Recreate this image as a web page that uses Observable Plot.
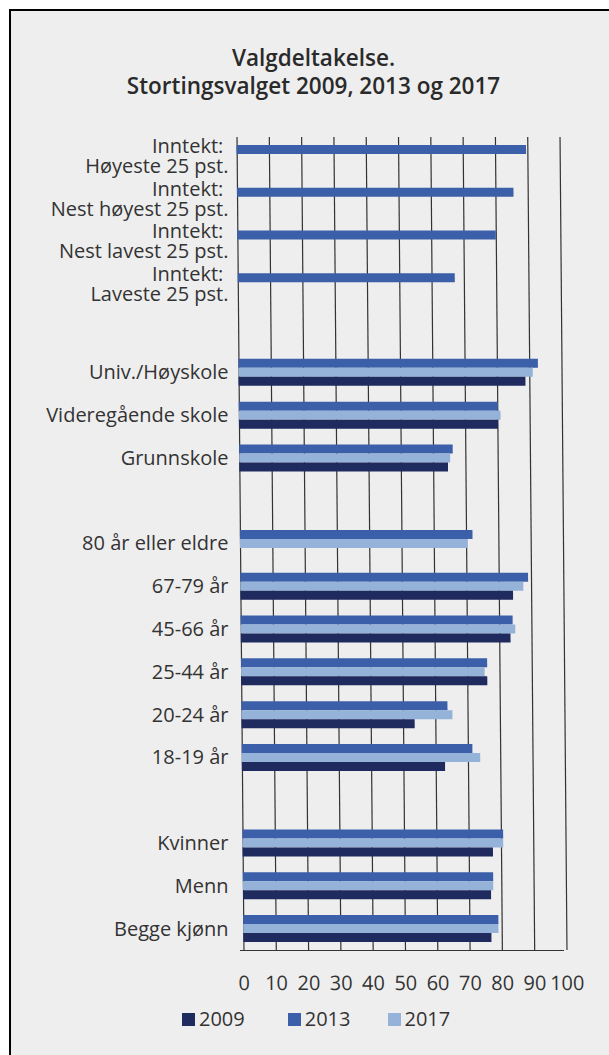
<!DOCTYPE html>
<html>
<head>
<meta charset="utf-8">
<script src="https://cdn.jsdelivr.net/npm/d3@7"></script>
<script src="https://cdn.jsdelivr.net/npm/@observablehq/plot@0.6"></script>
<style>
  html, body { margin: 0; padding: 0; background: #fff; }
  body { width: 609px; height: 1055px; overflow: hidden; position: relative; font-family: "Open Sans", sans-serif; color: #333; }
  #frame { position: absolute; left: 9px; top: 9px; width: 640px; height: 1100px; border: 2.5px solid #000; background: #eeeeee; }
  #title { position: absolute; left: 0; top: 44px; width: 627px; text-align: center; font-weight: 600; font-size: 22.5px; line-height: 28px; color: #2a2a2a; }
  #chart { position: absolute; left: 0; top: 110px; }
  #legend { position: absolute; left: 182px; top: 1008px; display: flex; font-size: 20px; line-height: 22px; color: #333; }
  .item { display: flex; align-items: center; }
  .sw { width: 13px; height: 13px; margin-right: 4px; }
</style>
</head>
<body>
<div id="frame"></div>
<div id="title">Valgdeltakelse.<br>Stortingsvalget 2009, 2013 og 2017</div>
<div id="chart"></div>
<div id="legend"></div>
<script>
const categories = [
  "Inntekt:\u00a0\nHøyeste 25 pst.",
  "Inntekt:\u00a0\nNest høyest 25 pst.",
  "Inntekt:\u00a0\nNest lavest 25 pst.",
  "Inntekt:\u00a0\nLaveste 25 pst.",
  "",
  "Univ./Høyskole",
  "Videregående skole",
  "Grunnskole",
  " ",
  "80 år eller eldre",
  "67-79 år",
  "45-66 år",
  "25-44 år",
  "20-24 år",
  "18-19 år",
  "  ",
  "Kvinner",
  "Menn",
  "Begge kjønn"
];
const values2009 = [null, null, null, null, null, 88.8, 80.2, 64.6, null, null, 84.4, 83.5, 76.2, 53.6, 62.9, null, 77.5, 76.8, 76.8];
const values2013 = [89.6, 85.6, 80.0, 67.2, null, 92.7, 80.2, 66.1, null, 72.0, 89.1, 84.2, 76.2, 63.8, 71.4, null, 80.7, 77.5, 79.0];
const values2017 = [null, null, null, null, null, 91.1, 81.0, 65.3, null, 70.5, 87.6, 85.0, 75.4, 65.3, 73.8, null, 80.7, 77.5, 79.0];
const seriesNames = ["2009", "2013", "2017"];
const seriesColors = ["#1f2a5e", "#3c5fa9", "#95b3d9"];
const xTicks = [0, 10, 20, 30, 40, 50, 60, 70, 80, 90, 100];

const width = 609, height = 885, marginTop = 27, marginBottom = 45;
const step = (height - marginTop - marginBottom) / categories.length;
const barH = 9;
const pad = (step - 3 * barH) / 2;
// display order within each group: 2013, 2017, 2009
const slotOf = {"2013": 0, "2017": 1, "2009": 2};
const seriesValues = {"2009": values2009, "2013": values2013, "2017": values2017};

function barsFor(name) {
  const vals = seriesValues[name];
  const data = categories.map((c, i) => ({cat: c, v: vals[i]})).filter(d => d.v != null);
  const k = slotOf[name];
  return Plot.barX(data, {
    x: "v", y: "cat",
    fill: seriesColors[seriesNames.indexOf(name)],
    insetTop: pad + k * barH,
    insetBottom: step - pad - (k + 1) * barH
  });
}

const singleLine = categories.filter(c => !c.includes("\n"));
const multiLine = categories.filter(c => c.includes("\n"));

const plot = Plot.plot({
  width, height, marginTop, marginBottom,
  marginLeft: 240, marginRight: 46,
  style: {background: "transparent", fontFamily: "Open Sans", fontSize: "20px", color: "#333"},
  x: {domain: [0, 100], ticks: xTicks, tickSize: 0, tickPadding: 25, line: true, label: null},
  y: {domain: categories, padding: 0, round: false, axis: null},
  marks: [
    Plot.ruleX(xTicks, {stroke: "#333", strokeWidth: 1.2}),
    barsFor("2013"),
    barsFor("2017"),
    barsFor("2009"),
    Plot.text(singleLine, {y: d => d, text: d => d, frameAnchor: "left", textAnchor: "end", dx: -12, dy: 0, fill: "#333"}),
    Plot.text(multiLine, {y: d => d, text: d => d, frameAnchor: "left", textAnchor: "end", dx: -12, dy: -2.5, lineHeight: 1.0, fill: "#333"})
  ]
});

// the reference's gridlines and bars lean slightly to the right going down
const svg = plot.tagName.toLowerCase() === "svg" ? plot : plot.querySelector("svg");
const pivot = 433;
Array.from(svg.children).forEach(g => {
  const label = g.getAttribute && g.getAttribute("aria-label");
  if (g.tagName.toLowerCase() === "g" && label && label !== "text") {
    const wrap = document.createElementNS("http://www.w3.org/2000/svg", "g");
    wrap.setAttribute("transform", `translate(0,${pivot}) skewX(0.49) translate(0,${-pivot})`);
    svg.insertBefore(wrap, g);
    wrap.appendChild(g);
  }
});
document.getElementById("chart").appendChild(plot);

const legend = document.getElementById("legend");
const gaps = [43, 37, 0];
seriesNames.forEach((n, i) => {
  const it = document.createElement("div");
  it.className = "item";
  it.style.marginRight = gaps[i] + "px";
  it.innerHTML = `<span class="sw" style="background:${seriesColors[i]}"></span><span>${n}</span>`;
  legend.appendChild(it);
});
</script>
</body>
</html>
